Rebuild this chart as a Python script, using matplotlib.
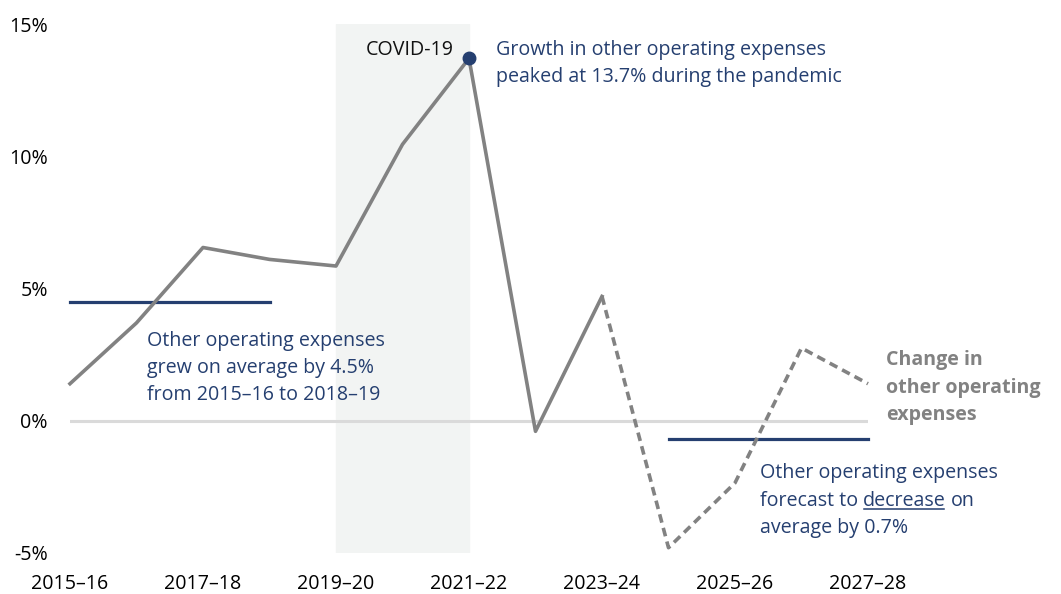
import matplotlib
matplotlib.use("Agg")
import matplotlib.pyplot as plt
from matplotlib.lines import Line2D
from matplotlib.transforms import IdentityTransform

plt.rcParams['font.family'] = ['Open Sans', 'DejaVu Sans']

# Data
years = ['2015–16', '2016–17', '2017–18', '2018–19', '2019–20', '2020–21', '2021–22',
         '2022–23', '2023–24', '2024–25', '2025–26', '2026–27', '2027–28']
actual = [1.4, 3.7, 6.55, 6.1, 5.85, 10.45, 13.7, -0.4, 4.7]
forecast = [4.7, -4.8, -2.35, 2.75, 1.4]
avg_past = 4.5
avg_future = -0.7
peak_idx = 6
tick_idx = [0, 2, 4, 6, 8, 10, 12]
yticks = [-5, 0, 5, 10, 15]
ytick_labels = ['-5%', '0%', '5%', '10%', '15%']

grey = '#828282'
navy = '#253F70'
fs = 14.1

fig = plt.figure(figsize=(10.61, 5.94), dpi=100)
W, H = 1061, 594
ax = fig.add_axes([70 / W, 41 / H, (868 - 70) / W, (553 - 24) / H])
ax.set_xlim(0, 12)
ax.set_ylim(-5, 15)
for s in ax.spines.values():
    s.set_visible(False)

# covid shading
ax.axvspan(4, 6, color='#F2F4F3', zorder=0)
# zero line
ax.axhline(0, color='#DADADA', lw=2.2, zorder=1)

x_act = list(range(len(actual)))
x_fc = list(range(len(actual) - 1, len(actual) - 1 + len(forecast)))
ax.plot(x_act, actual, color=grey, lw=2.6, zorder=3, clip_on=False)
ax.plot(x_fc, forecast, color=grey, lw=2.6, zorder=3, clip_on=False,
        dashes=(2.4, 1.5))

# average lines
ax.plot([0, 3], [avg_past, avg_past], color=navy, lw=2.3, zorder=2, clip_on=False)
ax.plot([9, 12], [avg_future, avg_future], color=navy, lw=2.3, zorder=2, clip_on=False)

# peak marker
ax.plot([peak_idx], [actual[peak_idx]], 'o', color=navy, ms=9, zorder=4, clip_on=False)

ax.set_xticks(tick_idx)
ax.set_xticklabels([years[i] for i in tick_idx], fontsize=fs)
ax.set_yticks(yticks)
ax.set_yticklabels(ytick_labels, fontsize=fs)
ax.tick_params(length=0)
ax.tick_params(axis='y', pad=16)
ax.tick_params(axis='x', pad=15)

ax.text(5.77, 14.0, 'COVID-19', ha='right', va='center', fontsize=fs, color='#111111')
ax.text(6.41, 13.5, 'Growth in other operating expenses\npeaked at 13.7% during the pandemic',
        ha='left', va='center', fontsize=fs, color=navy, linespacing=1.48)
ax.text(1.16, 2.0, 'Other operating expenses\ngrew on average by 4.5%\nfrom 2015–16 to 2018–19',
        ha='left', va='center', fontsize=fs, color=navy, linespacing=1.48)
ax.text(12.27, 1.25, 'Change in\nother operating\nexpenses', ha='left', va='center',
        fontsize=fs, color=grey, fontweight='bold', linespacing=1.48, clip_on=False)

# forecast annotation with underlined word
x0 = 10.37
ax.text(x0, -1.97, 'Other operating expenses', ha='left', va='center', fontsize=fs, color=navy)
ax.text(x0, -4.05, 'average by 0.7%', ha='left', va='center', fontsize=fs, color=navy)
t1 = ax.text(x0, -3.02, 'forecast to', ha='left', va='center', fontsize=fs, color=navy)
fig.canvas.draw()
r = fig.canvas.get_renderer()
inv = ax.transData.inverted()
bb1 = t1.get_window_extent(r)
x_dec = inv.transform((bb1.x1 + 5, 0))[0]
t2 = ax.text(x_dec, -3.02, 'decrease', ha='left', va='center', fontsize=fs, color=navy)
fig.canvas.draw()
bb2 = t2.get_window_extent(r)
x_on = inv.transform((bb2.x1 + 5, 0))[0]
ax.text(x_on, -3.02, 'on', ha='left', va='center', fontsize=fs, color=navy)
uy = bb2.y0 + 2
fig.add_artist(Line2D([bb2.x0 + 1, bb2.x1 - 1], [uy, uy], transform=IdentityTransform(),
                      color=navy, lw=1.1))

fig.savefig('out.png', dpi=100)
